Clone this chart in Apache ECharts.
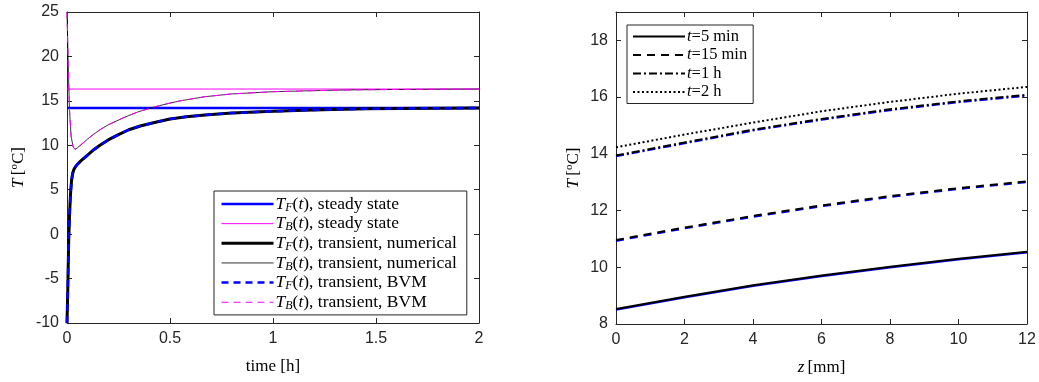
<!DOCTYPE html>
<html><head><meta charset="utf-8">
<script src="https://cdn.jsdelivr.net/npm/echarts@6/dist/echarts.min.js"></script>
<style>html,body{margin:0;padding:0;background:#fff}#c{width:1039px;height:382px}</style>
</head><body><div id="c"></div>
<script>
// ---------- Left panel data: temperature vs time ----------
const timeF = [0, 0.004, 0.008, 0.012, 0.017, 0.022, 0.027, 0.033, 0.04, 0.05, 0.07, 0.1, 0.13, 0.16, 0.2, 0.25, 0.3, 0.36, 0.43, 0.5, 0.58, 0.67, 0.8, 0.97, 1.15, 1.29, 1.45, 1.61, 1.8, 2];
const TF_num = [-10, -6, -1, 2, 4.5, 6, 6.8, 7.25, 7.55, 7.85, 8.3, 8.9, 9.5, 10.0, 10.6, 11.2, 11.75, 12.2, 12.6, 12.95, 13.2, 13.42, 13.62, 13.8, 13.95, 14.04, 14.1, 14.14, 14.17, 14.19];
const timeB = [0, 0.006, 0.012, 0.02, 0.03, 0.039, 0.05, 0.07, 0.1, 0.13, 0.16, 0.2, 0.265, 0.3, 0.35, 0.43, 0.5, 0.55, 0.67, 0.8, 1.0, 1.2, 1.4, 1.6, 1.8, 2];
const TB_num = [25, 19, 14, 11, 9.8, 9.55, 9.7, 10.1, 10.7, 11.25, 11.75, 12.3, 13.0, 13.35, 13.8, 14.35, 14.75, 15.0, 15.47, 15.78, 16.03, 16.15, 16.24, 16.28, 16.31, 16.33];
const timeSS = [0, 2];
const TF_ss = [14.2, 14.2];
const TB_ss = [16.33, 16.33];

// ---------- Right panel data: temperature vs depth z ----------
const zmm = [0, 2, 4, 6, 8, 10, 12];
const T_5min = [8.53, 8.96, 9.37, 9.71, 10.02, 10.30, 10.55];
const T_15min = [10.96, 11.40, 11.81, 12.18, 12.51, 12.79, 13.03];
const T_1h = [13.94, 14.40, 14.85, 15.23, 15.57, 15.85, 16.08];
const T_2h = [14.23, 14.68, 15.10, 15.50, 15.83, 16.12, 16.36];

const pairs = (xs, ys) => xs.map((x, i) => [x, ys[i]]);

const AX = '#262626';
const SANS = 'Liberation Sans';
const SERIF = 'Liberation Serif';
const BLUE = '#0000ff', MAG = '#ff00ff';

function mkRich(fs, lh) {
  return {
    it: { fontFamily: SERIF, fontStyle: 'italic', fontSize: fs, color: '#000', lineHeight: lh },
    sub: { fontFamily: SERIF, fontStyle: 'italic', fontSize: Math.round(fs * 0.7), color: '#000', verticalAlign: 'bottom', lineHeight: lh },
    sup: { fontFamily: SERIF, fontSize: Math.round(fs * 0.62), color: '#000', verticalAlign: 'top', lineHeight: lh },
    n: { fontFamily: SERIF, fontSize: fs, color: '#000', lineHeight: lh }
  };
}
const legRichL = mkRich(17.5, 19.3);
const legRichR = mkRich(16.5, 18.9);
const nameRich = mkRich(17, 20);

const legendText = {
  'TF steady': '{it|T}{sub|F}{n|(}{it|t}{n|), steady state}',
  'TB steady': '{it|T}{sub|B}{n|(}{it|t}{n|), steady state}',
  'TF num': '{it|T}{sub|F}{n|(}{it|t}{n|), transient, numerical}',
  'TB num': '{it|T}{sub|B}{n|(}{it|t}{n|), transient, numerical}',
  'TF BVM': '{it|T}{sub|F}{n|(}{it|t}{n|), transient, BVM}',
  'TB BVM': '{it|T}{sub|B}{n|(}{it|t}{n|), transient, BVM}',
  't5': '{it|t}{n|=5 min}',
  't15': '{it|t}{n|=15 min}',
  't1h': '{it|t}{n|=1 h}',
  't2h': '{it|t}{n|=2 h}'
};

function valAxis(grid, pos, min, max, interval, showLabels, extra) {
  return Object.assign({
    type: 'value', gridIndex: grid, position: pos, min: min, max: max, interval: interval,
    axisLine: { show: true, onZero: false, lineStyle: { color: AX, width: 1 } },
    axisTick: { show: true, inside: true, length: 5, lineStyle: { color: AX } },
    axisLabel: { show: showLabels, color: AX, fontFamily: SANS, fontSize: 16, margin: 8 },
    splitLine: { show: false }
  }, extra || {});
}

function line(name, data, color, width, type, xi, yi) {
  return {
    name: name, type: 'line', data: data, xAxisIndex: xi, yAxisIndex: yi,
    showSymbol: false, symbol: 'none', symbolSize: 0, smooth: false, animation: false,
    lineStyle: { color: color, width: width, type: type },
    itemStyle: { color: color }
  };
}

const legendCommon = {
  orient: 'vertical',
  itemWidth: 52, itemHeight: 14,
  borderColor: '#262626', borderWidth: 1, backgroundColor: '#fff',
  itemStyle: { opacity: 0, borderWidth: 0 },
  lineStyle: { width: 'inherit' },
  formatter: n => legendText[n],
  selectedMode: false
};

const chart = echarts.init(document.getElementById('c'));
chart.setOption({
  animation: false,
  backgroundColor: '#fff',
  grid: [
    { left: 67, right: 560, top: 12, bottom: 59 },
    { left: 616, right: 12, top: 12, bottom: 58 }
  ],
  xAxis: [
    valAxis(0, 'bottom', 0, 2, 0.5, true, {
      name: '{n|time [h]}', nameLocation: 'middle', nameGap: 34,
      nameTextStyle: { rich: nameRich }
    }),
    valAxis(0, 'top', 0, 2, 0.5, false),
    valAxis(1, 'bottom', 0, 12, 2, true, {
      name: '{it|z} {n|[mm]}', nameLocation: 'middle', nameGap: 34,
      nameTextStyle: { rich: nameRich }
    }),
    valAxis(1, 'top', 0, 12, 2, false)
  ],
  yAxis: [
    valAxis(0, 'left', -10, 25, 5, true, {
      name: '{it|T} {n|[}{sup|o}{n|C]}', nameLocation: 'middle', nameGap: 38, nameRotate: 90,
      nameTextStyle: { rich: nameRich }
    }),
    valAxis(0, 'right', -10, 25, 5, false),
    valAxis(1, 'left', 8, 19, 2, true, {
      name: '{it|T} {n|[}{sup|o}{n|C]}', nameLocation: 'middle', nameGap: 32, nameRotate: 90,
      nameTextStyle: { rich: nameRich },
      axisLabel: { show: true, showMaxLabel: false, color: AX, fontFamily: SANS, fontSize: 16, margin: 8 }
    }),
    valAxis(1, 'right', 8, 19, 2, false)
  ],
  legend: [
    Object.assign({}, legendCommon, {
      data: ['TF steady', 'TB steady', 'TF num', 'TB num', 'TF BVM', 'TB BVM'],
      left: 214, top: 191, itemGap: 1,
      padding: [4, 10, 3, 6],
      textStyle: { fontFamily: SERIF, fontSize: 17.5, color: '#000', padding: [0, 0, 0, -3], rich: legRichL }
    }),
    Object.assign({}, legendCommon, {
      data: ['t5', 't15', 't1h', 't2h'],
      left: 627, top: 25, itemGap: 1.5,
      padding: [3, 6, 3, 5],
      textStyle: { fontFamily: SERIF, fontSize: 16.5, color: '#000', padding: [0, 0, 0, -3], rich: legRichR }
    })
  ],
  series: [
    line('TF steady', pairs(timeSS, TF_ss), BLUE, 2.5, 'solid', 0, 0),
    line('TB steady', pairs(timeSS, TB_ss), MAG, 1, 'solid', 0, 0),
    line('TF num', pairs(timeF, TF_num), '#000', 3, 'solid', 0, 0),
    line('TB num', pairs(timeB, TB_num), '#000', 0.8, 'solid', 0, 0),
    line('TF BVM', pairs(timeF, TF_num), BLUE, 2.5, [7, 5], 0, 0),
    line('TB BVM', pairs(timeB, TB_num), MAG, 1, [7, 5], 0, 0),

    line('BVM 5 min', pairs(zmm, T_5min.map(v => v - 0.03)), BLUE, 2, 'solid', 2, 2),
    line('BVM 15 min', pairs(zmm, T_15min.map(v => v - 0.03)), BLUE, 2, [8, 6], 2, 2),
    line('BVM 1 h', pairs(zmm, T_1h.map(v => v - 0.03)), BLUE, 2, [8, 3, 2, 3], 2, 2),
    line('t5', pairs(zmm, T_5min), '#000', 2, 'solid', 2, 2),
    line('t15', pairs(zmm, T_15min), '#000', 2, [8, 6], 2, 2),
    line('t1h', pairs(zmm, T_1h), '#000', 2, [8, 3, 2, 3], 2, 2),
    line('t2h', pairs(zmm, T_2h), '#000', 2, [2, 2.5], 2, 2)
  ]
});
</script>
</body></html>
